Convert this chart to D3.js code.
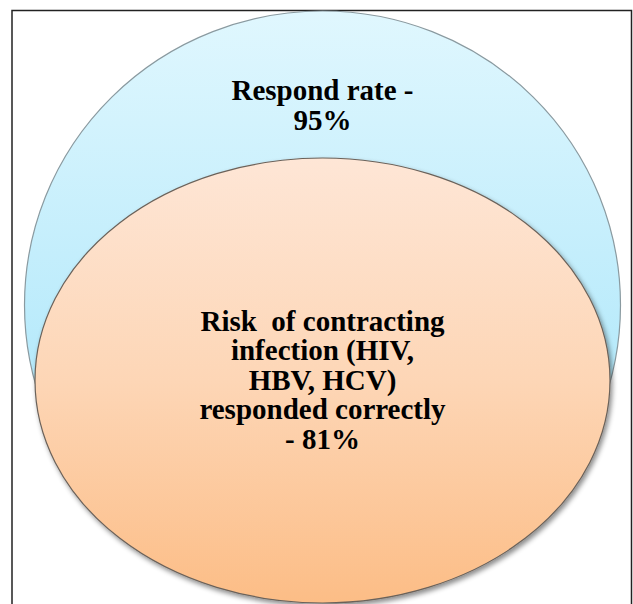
<!DOCTYPE html>
<html>
<head>
<meta charset="utf-8">
<script src="https://cdn.jsdelivr.net/npm/d3@7"></script>
<style>
  body { margin: 0; background: #fff; }
  svg { display: block; }
</style>
</head>
<body>
<svg></svg>
<script>
var names = ["Respond rate", "Risk of contracting infection"];
var values = [95, 81];
var labelLines = [
  ["Respond rate -", "95%"],
  ["Risk\u00a0 of contracting", "infection (HIV,", "HBV, HCV)", "responded correctly", "- 81%"]
];

var svgWidth = 633, svgHeight = 604;

var svg = d3.select('svg')
    .attr("width", svgWidth)
    .attr("height", svgHeight);

// size of each ellipse follows its value
var rxScale = d3.scaleLinear().domain([81, 95]).range([287.5, 298]);
var ryScale = d3.scaleLinear().domain([81, 95]).range([222.5, 294]);
var bottom = 603, cx = 322.5;

var defs = svg.append("defs");

var blue = defs.append("linearGradient").attr("id", "g0")
    .attr("x1", 0).attr("y1", 0).attr("x2", 0).attr("y2", 1);
blue.append("stop").attr("offset", "0%").attr("stop-color", "#e0f7fe");
blue.append("stop").attr("offset", "60%").attr("stop-color", "#b7eafb");
blue.append("stop").attr("offset", "100%").attr("stop-color", "#a8e3f8");

var orange = defs.append("linearGradient").attr("id", "g1")
    .attr("x1", 0).attr("y1", 0).attr("x2", 0).attr("y2", 1);
orange.append("stop").attr("offset", "0%").attr("stop-color", "#fee6d6");
orange.append("stop").attr("offset", "50%").attr("stop-color", "#fdd6b6");
orange.append("stop").attr("offset", "100%").attr("stop-color", "#fcbd86");

var shadow = defs.append("filter").attr("id", "shadow")
    .attr("x", "-10%").attr("y", "-10%").attr("width", "120%").attr("height", "120%");
shadow.append("feDropShadow")
    .attr("dx", 2).attr("dy", 3).attr("stdDeviation", 2.5)
    .attr("flood-color", "#000").attr("flood-opacity", 0.45);

// frame
svg.append("path")
    .attr("d", "M12,604 V10.5 H631.5 V604")
    .attr("fill", "none")
    .attr("stroke", "#222")
    .attr("stroke-width", 1.5);

// blue ellipse hangs from the top of the frame, orange sits on the bottom
var cyOf = function(d, i) {
    return i === 0 ? 11 + ryScale(d) : bottom - ryScale(d);
};

svg.selectAll("ellipse")
    .data(values)
    .enter()
    .append("ellipse")
    .attr("cx", cx)
    .attr("cy", cyOf)
    .attr("rx", function(d) { return rxScale(d); })
    .attr("ry", function(d) { return ryScale(d); })
    .attr("fill", function(d, i) { return "url(#g" + i + ")"; })
    .attr("stroke", function(d, i) { return i === 0 ? "#8a9aa0" : "#6b625a"; })
    .attr("stroke-width", 1.2)
    .attr("filter", function(d, i) { return i === 1 ? "url(#shadow)" : null; });

var lineH = 29.5;
var firstBaseline = [100, 330.5];

svg.selectAll("text.label")
    .data(labelLines)
    .enter()
    .append("text")
    .attr("class", "label")
    .attr("text-anchor", "middle")
    .style("font-family", '"Liberation Serif"')
    .style("font-weight", "bold")
    .style("font-size", "29px")
    .attr("fill", "#000")
    .each(function(lines, i) {
        var t = d3.select(this);
        lines.forEach(function(l, j) {
            t.append("tspan")
                .attr("x", cx)
                .attr("y", firstBaseline[i] + j * lineH)
                .text(l);
        });
    });
</script>
</body>
</html>
